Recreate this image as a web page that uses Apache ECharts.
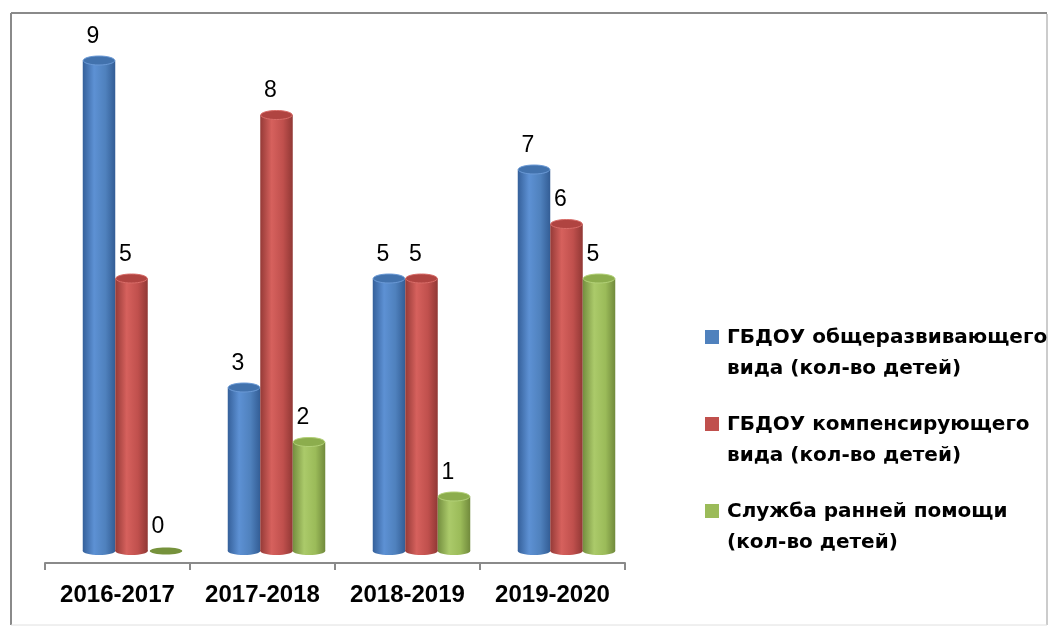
<!DOCTYPE html>
<html>
<head>
<meta charset="utf-8">
<script src="https://cdn.jsdelivr.net/npm/echarts@6/dist/echarts.min.js"></script>
<style>
  html, body { margin: 0; background: #fff; }
  #chart { width: 1050px; height: 626px; }
</style>
</head>
<body>
<div id="chart"></div>
<script>
const categories = ['2016-2017', '2017-2018', '2018-2019', '2019-2020']
const seriesNames = [
  'ГБДОУ общеразвивающего\nвида (кол-во детей)',
  'ГБДОУ компенсирующего\nвида (кол-во детей)',
  'Служба ранней помощи\n(кол-во детей)'
]
const generalValues = [9, 3, 5, 7]
const compensatingValues = [5, 8, 5, 6]
const earlyHelpValues = [0, 2, 1, 5]

const BAR_W = 32.5

// cylinder shading per series
const palettes = [
  {
    base: '#4F81BD',
    body: [
      { offset: 0, color: '#35609a' },
      { offset: 0.35, color: '#5d91d4' },
      { offset: 0.7, color: '#4f81bd' },
      { offset: 1, color: '#335d95' }
    ],
    top: '#4272ad', rim: '#6b9ad6', flat: '#3f6ea8'
  },
  {
    base: '#C0504D',
    body: [
      { offset: 0, color: '#953a37' },
      { offset: 0.35, color: '#d6615d' },
      { offset: 0.7, color: '#c0504d' },
      { offset: 1, color: '#913835' }
    ],
    top: '#b04441', rim: '#d96d69', flat: '#a8423f'
  },
  {
    base: '#9BBB59',
    body: [
      { offset: 0, color: '#748e3f' },
      { offset: 0.35, color: '#abca6a' },
      { offset: 0.7, color: '#9bbb59' },
      { offset: 1, color: '#718a3c' }
    ],
    top: '#8cad4d', rim: '#b3d178', flat: '#76923c'
  }
]

function cylinderItem (idx) {
  const pal = palettes[idx]
  return function (params, api) {
    const cat = api.value(0)
    const val = api.value(1)
    const base = api.coord([cat, 0])
    const top = api.coord([cat, val])
    const cx = base[0] + (idx - 1) * BAR_W
    const hw = BAR_W / 2
    const grad = new echarts.graphic.LinearGradient(0, 0, 1, 0, pal.body)
    const children = []
    if (val > 0) {
      children.push({ type: 'ellipse', shape: { cx: cx, cy: base[1], rx: hw, ry: 4 }, style: { fill: grad } })
      children.push({ type: 'rect', shape: { x: cx - hw, y: top[1], width: BAR_W, height: base[1] - top[1] }, style: { fill: grad } })
      children.push({ type: 'ellipse', shape: { cx: cx, cy: top[1], rx: hw - 0.5, ry: 4.5 }, style: { fill: pal.top, stroke: pal.rim, lineWidth: 1 } })
    } else {
      children.push({ type: 'ellipse', shape: { cx: cx + 2, cy: base[1], rx: hw, ry: 3.5 }, style: { fill: pal.flat } })
    }
    children.push({
      type: 'text',
      x: cx - 6,
      y: top[1] - 24,
      style: {
        text: String(val),
        font: '23px "Liberation Sans", Arial, sans-serif',
        fill: '#000',
        align: 'center',
        verticalAlign: 'middle'
      }
    })
    return { type: 'group', children: children }
  }
}

const allValues = [generalValues, compensatingValues, earlyHelpValues]

const myChart = echarts.init(document.getElementById('chart'), null, { renderer: 'canvas' })

const option = {
  animation: false,
  backgroundColor: '#fff',
  grid: [
    { left: 59, right: 411, top: 6, bottom: 75 },
    { left: 45, right: 425, top: 562, bottom: 63 }
  ],
  xAxis: [
    { type: 'category', gridIndex: 0, data: categories, show: false },
    {
      type: 'category',
      gridIndex: 1,
      data: categories,
      axisLine: { show: true, lineStyle: { color: '#8a8a8a', width: 2 } },
      axisTick: { show: true, interval: 0, length: 7, lineStyle: { color: '#8a8a8a', width: 2 } },
      axisLabel: {
        interval: 0,
        margin: 20,
        color: '#000',
        fontSize: 24,
        fontWeight: 'bold',
        fontFamily: '"Liberation Sans", Arial, sans-serif'
      }
    }
  ],
  yAxis: [
    { type: 'value', gridIndex: 0, min: 0, max: 10, show: false },
    { type: 'value', gridIndex: 1, show: false }
  ],
  legend: {
    orient: 'vertical',
    left: 700,
    top: 317,
    itemGap: 25,
    itemWidth: 17,
    itemHeight: 62,
    icon: 'path://M0,8h14v14h-14z M0,0h0.01v0.01h-0.01z M17,62h0.01v0.01h-0.01z',
    textStyle: {
      color: '#000',
      fontSize: 20,
      fontWeight: 'bold',
      lineHeight: 31,
      fontFamily: '"DejaVu Sans", sans-serif'
    },
    data: seriesNames
  },
  graphic: [
    { type: 'line', shape: { x1: 11, y1: 13, x2: 1047, y2: 13 }, style: { stroke: '#8a8a8a', lineWidth: 2 } },
    { type: 'line', shape: { x1: 11, y1: 13, x2: 11, y2: 625 }, style: { stroke: '#8a8a8a', lineWidth: 2 } },
    { type: 'line', shape: { x1: 1047, y1: 14, x2: 1047, y2: 625 }, style: { stroke: '#cccccc', lineWidth: 2 } },
    { type: 'line', shape: { x1: 11, y1: 625, x2: 1047, y2: 625 }, style: { stroke: '#e0e0e0', lineWidth: 1 } }
  ],
  series: allValues.map(function (vals, i) {
    return {
      name: seriesNames[i],
      type: 'custom',
      xAxisIndex: 0,
      yAxisIndex: 0,
      itemStyle: { color: palettes[i].base },
      renderItem: cylinderItem(i),
      encode: { x: 0, y: 1 },
      data: vals.map(function (v, j) { return [j, v] })
    }
  })
}

myChart.setOption(option)
</script>
</body>
</html>
